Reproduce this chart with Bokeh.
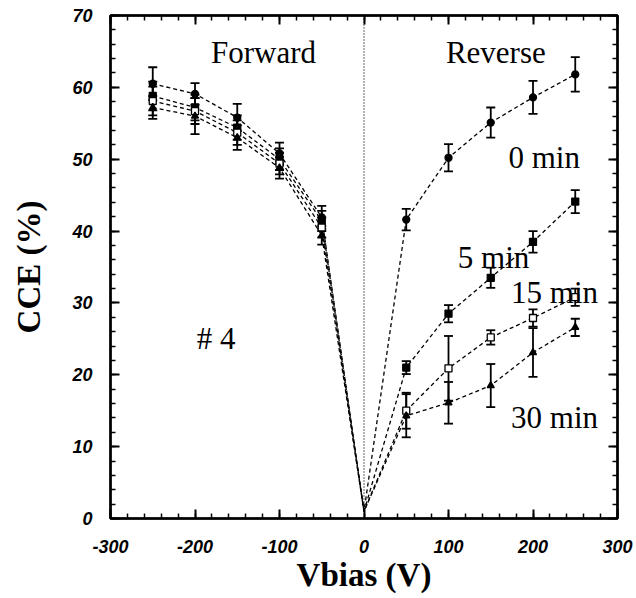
from bokeh.plotting import figure
from bokeh.models import (ColumnDataSource, Whisker, TeeHead, Span, Label,
                          LinearAxis, SingleIntervalTicker, Range1d,
                          CustomJSTickFormatter)
from bokeh.embed import file_html
from bokeh.resources import INLINE

# Bias voltages (V); forward bias negative, reverse bias positive
vbias = [-250, -200, -150, -100, -50, 50, 100, 150, 200, 250]

# CCE (%) after different irradiation/annealing times
cce_0min = [60.5, 59.1, 55.8, 50.8, 41.9, 41.6, 50.2, 55.1, 58.6, 61.8]
err_0min = [2.3, 1.5, 1.9, 1.5, 1.6, 1.5, 1.9, 2.1, 2.3, 2.4]
cce_5min = [58.8, 57.2, 54.4, 50.0, 41.4, 21.0, 28.5, 33.5, 38.5, 44.1]
err_5min = [2.0, 1.8, 1.7, 1.5, 1.4, 0.9, 1.2, 1.4, 1.5, 1.6]
cce_15min = [58.1, 56.7, 53.7, 49.4, 40.5, 15.0, 20.9, 25.2, 27.9, 30.8]
err_15min = [2.0, 1.8, 1.7, 1.5, 1.4, 2.5, 4.5, 1.0, 1.2, 1.2]
cce_30min = [57.2, 56.0, 53.0, 48.8, 39.4, 14.3, 16.1, 18.5, 23.1, 26.6]
err_30min = [1.6, 2.5, 1.7, 1.5, 1.3, 3.0, 2.9, 3.0, 3.4, 1.2]

# all curves start from the origin at zero bias
origin_cce = 1.0

series = [
    ("0 min", cce_0min, err_0min, "circle", "black"),
    ("5 min", cce_5min, err_5min, "square", "black"),
    ("15 min", cce_15min, err_15min, "square", "white"),
    ("30 min", cce_30min, err_30min, "triangle", "black"),
]

SERIF = "Liberation Serif"
SANS = "Liberation Sans"

p = figure(width=636, height=598, output_backend="svg", toolbar_location=None,
           x_range=Range1d(-300, 300), y_range=Range1d(0, 70),
           min_border_left=110, min_border_right=19,
           min_border_top=15, min_border_bottom=80)
p.background_fill_color = "white"
p.border_fill_color = "white"
p.xgrid.visible = False
p.ygrid.visible = False
p.outline_line_color = "black"
p.outline_line_width = 2.5

xticker = SingleIntervalTicker(interval=100, num_minor_ticks=5)
yticker = SingleIntervalTicker(interval=10, num_minor_ticks=5)
plain_numbers = CustomJSTickFormatter(code="return tick.toFixed(0)")


def style_axis(ax, show_labels=True):
    ax.axis_line_color = "black"
    ax.axis_line_width = 2
    ax.major_tick_in = 9
    ax.major_tick_out = 0
    ax.minor_tick_in = 5
    ax.minor_tick_out = 0
    ax.major_tick_line_width = 2
    ax.minor_tick_line_width = 1.5
    if show_labels:
        ax.formatter = plain_numbers
        ax.major_label_text_font = SANS
        ax.major_label_text_font_style = "bold italic"
        ax.major_label_text_font_size = "18px"
        ax.major_label_text_color = "black"
        ax.axis_label_text_font = SERIF
        ax.axis_label_text_font_style = "bold"
        ax.axis_label_text_font_size = "33px"
        ax.axis_label_text_color = "black"
    else:
        # mirrored axes carry ticks only
        ax.formatter = CustomJSTickFormatter(code="return ''")
        ax.major_label_standoff = 0


p.xaxis.ticker = xticker
p.yaxis.ticker = yticker
style_axis(p.xaxis[0])
style_axis(p.yaxis[0])
p.xaxis.axis_label = "Vbias (V)"
p.yaxis.axis_label = "CCE (%)"
p.xaxis.major_label_standoff = 21
p.xaxis.axis_label_standoff = 1
p.yaxis.major_label_standoff = 18
p.yaxis.axis_label_standoff = 22

top_axis = LinearAxis(ticker=SingleIntervalTicker(interval=100, num_minor_ticks=5))
right_axis = LinearAxis(ticker=SingleIntervalTicker(interval=10, num_minor_ticks=5))
style_axis(top_axis, show_labels=False)
style_axis(right_axis, show_labels=False)
p.add_layout(top_axis, "above")
p.add_layout(right_axis, "right")

# zero-bias marker
p.add_layout(Span(location=0, dimension="height", line_color="black",
                  line_width=1.2, line_dash="1 2"))

for name, cce, err, marker, fill in series:
    line_x = vbias[:5] + [0] + vbias[5:]
    line_y = cce[:5] + [origin_cce] + cce[5:]
    p.line(line_x, line_y, line_color="black", line_width=1.3, line_dash="4 3")

    src = ColumnDataSource(data=dict(
        x=vbias, y=cce,
        lo=[c - e for c, e in zip(cce, err)],
        hi=[c + e for c, e in zip(cce, err)],
    ))
    p.add_layout(Whisker(source=src, base="x", lower="lo", upper="hi",
                         line_color="black", line_width=1.8,
                         upper_head=TeeHead(size=9, line_width=1.8, line_color="black"),
                         lower_head=TeeHead(size=9, line_width=1.8, line_color="black")))
    p.scatter("x", "y", source=src, marker=marker, size=7,
              fill_color=fill, line_color="black", line_width=1.3)

labels = [
    ("Forward", -119, 64.8, "center"),
    ("Reverse", 156, 64.8, "center"),
    ("0 min", 171, 50.2, "left"),
    ("5 min", 111, 36.3, "left"),
    ("15 min", 174, 31.4, "left"),
    ("30 min", 174, 14.0, "left"),
    ("# 4", -175, 25.0, "center"),
]
for text, x, y, align in labels:
    p.add_layout(Label(x=x, y=y, text=text, text_font=SERIF,
                       text_font_size="31px", text_color="black",
                       text_align=align, text_baseline="alphabetic"))

open("out.html", "w").write(file_html(p, INLINE))
